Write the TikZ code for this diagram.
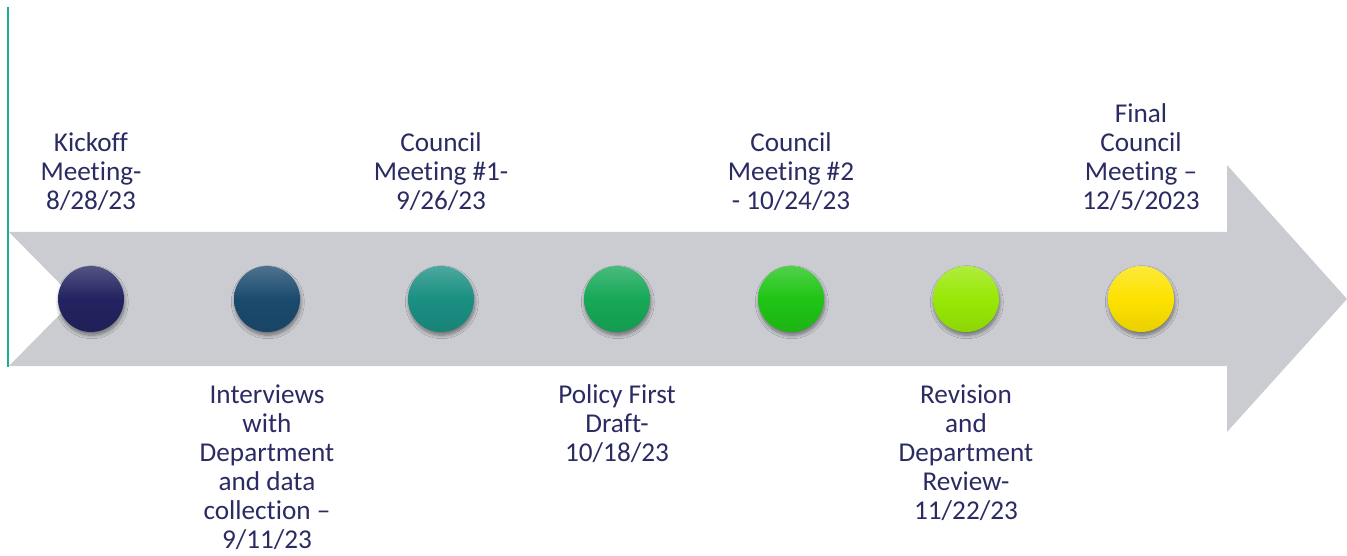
\documentclass[tikz,border=0pt]{standalone}
\usepackage{fontspec}
\setmainfont{Carlito}[Ligatures=CommonOff]
\usepackage{tikz}
\usetikzlibrary{shadows.blur}

\definecolor{arrowgray}{HTML}{CBCCD1}
\definecolor{tealline}{HTML}{1AAF93}
\definecolor{labeltext}{HTML}{2A2B62}
\definecolor{dotA}{HTML}{222360}
\definecolor{dotB}{HTML}{1B4A6E}
\definecolor{dotC}{HTML}{1A8F82}
\definecolor{dotD}{HTML}{16A857}
\definecolor{dotE}{HTML}{1FC415}
\definecolor{dotF}{HTML}{98E805}
\definecolor{dotG}{HTML}{FDE200}

\tikzset{
  milestone/.style={circle, minimum size=66*0.75pt, inner sep=0pt,
    top color=#1!78!white, bottom color=#1!92!black, middle color=#1,
    blur shadow={shadow xshift=0.6pt, shadow yshift=-2.4pt, shadow opacity=45,
      shadow blur radius=2.6pt, shadow blur steps=8}},
  datelabel/.style={align=center, inner sep=0pt, text=labeltext,
    font=\fontsize{20.4}{21.75}\selectfont}
}

\begin{document}
\begin{tikzpicture}[x=0.75pt, y=-0.75pt]
    \useasboundingbox (0, 0) rectangle (1347, 556);

    % the big arrow
    \fill [arrowgray] (9, 232) -- (1227, 232) -- (1227, 165) -- (1347, 299)
      -- (1227, 432) -- (1227, 366) -- (9, 366) -- (75, 299) -- cycle;

    \draw [tealline, line width=2pt] (8, 7) -- (8, 367);

    % dots on the timeline
    \node [milestone=dotA] (kickoff) at (91, 299) {};
    \node [milestone=dotB] (interviews) at (267, 299) {};
    \node [milestone=dotC] (councilone) at (441, 299) {};
    \node [milestone=dotD] (draft) at (617, 299) {};
    \node [milestone=dotE] (counciltwo) at (791, 299) {};
    \node [milestone=dotF] (revision) at (966, 299) {};
    \node [milestone=dotG] (final) at (1141, 299) {};

    % labels above
    \node [datelabel] (kickofftext) at (91, 172) {Kickoff\\Meeting-\\8/28/23};
    \node [datelabel] (councilonetext) at (441, 172) {Council\\Meeting \#1-\\9/26/23};
    \node [datelabel] (counciltwotext) at (791, 172) {Council\\Meeting \#2\\- 10/24/23};
    \node [datelabel] (finaltext) at (1141, 157.5) {Final\\Council\\Meeting --\\12/5/2023};

    % labels below
    \node [datelabel] (interviewstext) at (267, 467.5)
      {Interviews\\with\\Department\\and data\\collection --\\9/11/23};
    \node [datelabel] (drafttext) at (617, 424) {Policy First\\Draft-\\10/18/23};
    \node [datelabel] (revisiontext) at (966, 453)
      {Revision\\and\\Department\\Review-\\11/22/23};
  \end{tikzpicture}
\end{document}
